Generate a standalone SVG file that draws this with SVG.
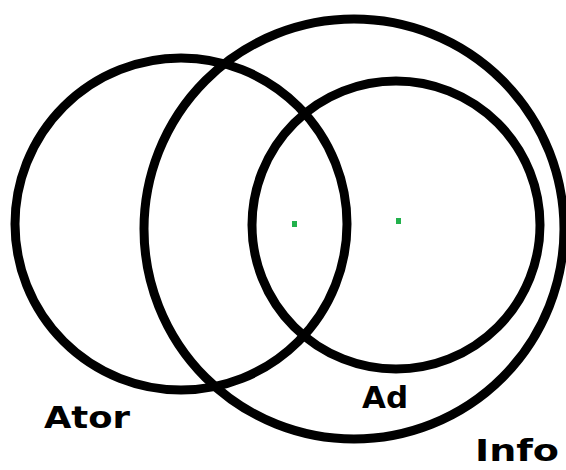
<svg xmlns="http://www.w3.org/2000/svg" width="566" height="470" viewBox="0 0 566 470">
<style>
.c{fill:none;stroke:#000;stroke-width:9}
.t{font-family:"DejaVu Sans","Liberation Sans",sans-serif;font-weight:bold;font-size:31px;fill:#000}
.d{fill:#22b14c}
</style>
<rect width="566" height="470" fill="#fff"/>
<g id="ator">
<circle class="c" cx="181" cy="224" r="166"/>
<text class="t" x="44" y="428" textLength="86" lengthAdjust="spacingAndGlyphs">Ator</text>
</g>
<g id="info">
<circle class="c" cx="354" cy="229" r="210"/>
<text class="t" x="475" y="461" textLength="84" lengthAdjust="spacingAndGlyphs">Info</text>
</g>
<g id="ad">
<circle class="c" cx="396" cy="225" r="144"/>
<text class="t" x="362" y="408" textLength="46" lengthAdjust="spacingAndGlyphs">Ad</text>
</g>
<g id="dots">
<rect class="d" x="292" y="221" width="5" height="6"/>
<rect class="d" x="396" y="218" width="5" height="6"/>
</g>
<g id="connectors"/>
</svg>
